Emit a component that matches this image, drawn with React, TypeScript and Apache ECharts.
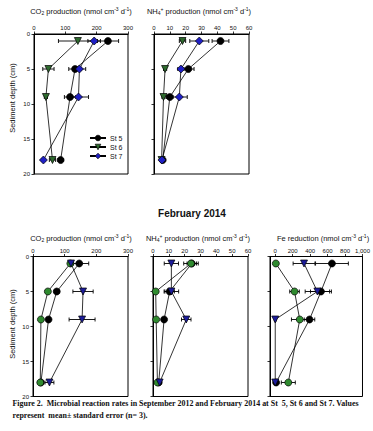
import React, { useEffect, useRef } from "react";
import * as echarts from "echarts";

// ---------- data ----------
const depths = [1, 5, 9, 18];
const stations = ["St 5", "St 6", "St 7"];

// September 2012
const co2SepSt5 = [236, 131, 115, 85];
const co2SepSt5Err = [34, 20, 18, 8];
const co2SepSt6 = [140, 46, 38, 59];
const co2SepSt6Err = [62, 18, 5, 10];
const co2SepSt7 = [192, 145, 142, 30];
const co2SepSt7Err = [20, 20, 32, 5];

const nh4SepSt5 = [42, 21.7, 10, 5.5];
const nh4SepSt5Err = [5.3, 3.6, 2, 1];
const nh4SepSt6 = [18, 7, 6, 4.8];
const nh4SepSt6Err = [2, 1, 1, 0.5];
const nh4SepSt7 = [28.6, 17, 16, 5];
const nh4SepSt7Err = [6, 2, 5, 1];

// February 2014
const co2FebSt5 = [146, 75, 49, 25];
const co2FebSt5Err = [30, 8, 5, 3];
const co2FebSt6 = [118, 47, 25, 23];
const co2FebSt6Err = [5, 8, 5, 3];
const co2FebSt7 = [120, 158, 155, 52];
const co2FebSt7Err = [8, 32, 41, 14];

const nh4FebSt5 = [24.5, 10.5, 7, 3.6];
const nh4FebSt5Err = [3, 3, 1, 0.5];
const nh4FebSt6 = [24, 1.7, 2, 2.8];
const nh4FebSt6Err = [4.6, 0.5, 0.5, 0.5];
const nh4FebSt7 = [11.6, 11.6, 21, 4.2];
const nh4FebSt7Err = [4.5, 4.6, 3, 1];

const feFebSt5 = [650, 524, 393, 10];
const feFebSt5Err = [188, 120, 60, 5];
const feFebSt6 = [7, 221, 281, 150];
const feFebSt6Err = [10, 55, 95, 80];
const feFebSt7 = [330, 483, 0, 0];
const feFebSt7Err = [125, 140, 10, 5];

// tick labels
const depthTicks = [0, 5, 10, 15, 20];
const co2Ticks = [0, 100, 200, 300];
const nh4Ticks = [0, 10, 20, 30, 40, 50, 60];
const feTicks = [0, 200, 400, 600, 800, 1000];

const titleCO2 = "CO{sub|2} production (nmol cm{sup|-3} d{sup|-1})";
const titleNH4 = "NH{sub|4}{sup|+} production (nmol cm{sup|-3} d{sup|-1})";
const titleFe = "Fe reduction (nmol cm{sup|-3} d{sup|-1})";
const yTitle = "Sediment depth (cm)";
const febTitle = "February 2014";
const caption1 =
  "Figure 2.  Microbial reaction rates in September 2012 and February 2014 at St  5, St 6 and St 7. Values";
const caption2 = "represent  mean± standard error (n= 3).";

// ---------- styles ----------
const SANS = "'Liberation Sans', Arial, sans-serif";
const SERIF = "'Liberation Serif', 'Times New Roman', serif";
const GREEN_TOP = "#2e6a2e";
const GREEN_BOT = "#2f8a2f";
const BLUE_TOP = "#1f1fc4";
const BLUE_BOT = "#1c1c9a";
const topColors = ["#000", GREEN_TOP, BLUE_TOP];

const grids = [
  { left: 34, top: 34, width: 94, height: 140 },
  { left: 154, top: 34, width: 95, height: 140 },
  { left: 33, top: 256.5, width: 95, height: 140 },
  { left: 153, top: 256.5, width: 95, height: 140 },
  { left: 270, top: 256.5, width: 94, height: 140 },
];

type Ax = { min: number; max: number; ticks: number[] };
const xAxes: Ax[] = [
  { min: 0, max: 300, ticks: co2Ticks },
  { min: 0, max: 60, ticks: nh4Ticks },
  { min: 0, max: 300, ticks: co2Ticks },
  { min: 0, max: 60, ticks: nh4Ticks },
  { min: -60, max: 1000, ticks: feTicks },
];

function makeStation(
  name: string,
  g: number,
  values: number[],
  errs: number[],
  symbol: string,
  color: string,
  rotate: number,
  size: number
) {
  const line = {
    type: "line",
    name,
    xAxisIndex: g,
    yAxisIndex: g,
    data: values.map((v, i) => [v, depths[i]]),
    symbol,
    symbolSize: size,
    symbolRotate: rotate,
    showSymbol: true,
    lineStyle: { color: "#000", width: 0.8 },
    itemStyle: { color, borderColor: "#000", borderWidth: 0.7 },
    z: 4,
    silent: true,
  };
  const err = {
    type: "custom",
    name: name + " err",
    xAxisIndex: g,
    yAxisIndex: g,
    data: values.map((v, i) => [v, depths[i], errs[i]]),
    encode: { x: 0, y: 1 },
    z: 3,
    silent: true,
    renderItem: (_p: any, api: any) => {
      const x = api.value(0);
      const y = api.value(1);
      const e = api.value(2);
      const a = api.coord([x - e, y]);
      const b = api.coord([x + e, y]);
      const cap = 2;
      const st = { stroke: "#000", lineWidth: 0.9 };
      return {
        type: "group",
        children: [
          { type: "line", shape: { x1: a[0], y1: a[1], x2: b[0], y2: b[1] }, style: st },
          { type: "line", shape: { x1: a[0], y1: a[1] - cap, x2: a[0], y2: a[1] + cap }, style: st },
          { type: "line", shape: { x1: b[0], y1: b[1] - cap, x2: b[0], y2: b[1] + cap }, style: st },
        ],
      };
    },
  };
  return [line, err];
}

export default function App() {
  const ref = useRef<HTMLDivElement>(null);
  useEffect(() => {
    if (!ref.current) return;
    const chart = echarts.init(ref.current, undefined, { renderer: "svg" });

    const xAxis = xAxes.map((a, g) => ({
      gridIndex: g,
      type: "value",
      position: "top",
      min: a.min,
      max: a.max,
      axisLine: { show: true, onZero: false, lineStyle: { color: "#000", width: 1 } },
      axisTick: { show: true, length: 2.5, customValues: a.ticks, lineStyle: { color: "#000", width: 0.8 } },
      axisLabel: { show: true, customValues: a.ticks, fontSize: 6, color: "#111", fontFamily: SANS, margin: 3 },
      splitLine: { show: false },
    }));

    const yAxis = grids.map((_, g) => ({
      gridIndex: g,
      type: "value",
      inverse: true,
      min: 0,
      max: 20,
      interval: 5,
      axisLine: { show: true, onZero: false, lineStyle: { color: "#000", width: 1 } },
      axisTick: { show: true, length: 2.5, lineStyle: { color: "#000", width: 0.8 } },
      axisLabel: {
        show: g === 0 || g === 2,
        fontSize: 6,
        color: "#111",
        fontFamily: SANS,
        margin: 4,
        customValues: depthTicks,
      },
      splitLine: { show: false },
    }));

    const series: any[] = [
      ...makeStation(stations[0], 0, co2SepSt5, co2SepSt5Err, "circle", "#000", 0, 7),
      ...makeStation(stations[1], 0, co2SepSt6, co2SepSt6Err, "triangle", GREEN_TOP, 180, 7),
      ...makeStation(stations[2], 0, co2SepSt7, co2SepSt7Err, "diamond", BLUE_TOP, 0, 8),
      ...makeStation("Sep NH4 St 5", 1, nh4SepSt5, nh4SepSt5Err, "circle", "#000", 0, 7),
      ...makeStation("Sep NH4 St 6", 1, nh4SepSt6, nh4SepSt6Err, "triangle", GREEN_TOP, 180, 7),
      ...makeStation("Sep NH4 St 7", 1, nh4SepSt7, nh4SepSt7Err, "diamond", BLUE_TOP, 0, 8),
      ...makeStation("Feb CO2 St 5", 2, co2FebSt5, co2FebSt5Err, "circle", "#000", 0, 7),
      ...makeStation("Feb CO2 St 6", 2, co2FebSt6, co2FebSt6Err, "circle", GREEN_BOT, 0, 7),
      ...makeStation("Feb CO2 St 7", 2, co2FebSt7, co2FebSt7Err, "triangle", BLUE_BOT, 180, 7),
      ...makeStation("Feb NH4 St 5", 3, nh4FebSt5, nh4FebSt5Err, "circle", "#000", 0, 7),
      ...makeStation("Feb NH4 St 6", 3, nh4FebSt6, nh4FebSt6Err, "circle", GREEN_BOT, 0, 7),
      ...makeStation("Feb NH4 St 7", 3, nh4FebSt7, nh4FebSt7Err, "triangle", BLUE_BOT, 180, 7),
      ...makeStation("Feb Fe St 5", 4, feFebSt5, feFebSt5Err, "circle", "#000", 0, 7),
      ...makeStation("Feb Fe St 6", 4, feFebSt6, feFebSt6Err, "circle", GREEN_BOT, 0, 7),
      ...makeStation("Feb Fe St 7", 4, feFebSt7, feFebSt7Err, "triangle", BLUE_BOT, 180, 7),
    ];

    const rich = {
      sub: { fontSize: 5, lineHeight: 5, verticalAlign: "bottom", fill: "#111", fontFamily: SANS },
      sup: { fontSize: 5, lineHeight: 5, verticalAlign: "top", fill: "#111", fontFamily: SANS },
    };

    const txt = (text: string, x: number, y: number, size: number, opts: any = {}) => ({
      type: "text",
      x,
      y,
      rotation: opts.rotation || 0,
      silent: true,
      style: {
        text,
        fill: "#111",
        fontSize: size,
        lineHeight: opts.lineHeight || undefined,
        fontFamily: opts.family || SANS,
        fontWeight: opts.weight || "normal",
        textAlign: opts.align || "center",
        textVerticalAlign: "middle",
        rich: opts.rich || undefined,
      },
    });
    const title = (text: string, x: number, y: number) =>
      txt(text, x, y, 7.5, { rich, lineHeight: 9 });

    chart.setOption({
      animation: false,
      backgroundColor: "#fff",
      grid: grids.map((g) => ({
        ...g,
        show: true,
        borderColor: "#000",
        borderWidth: 1,
        backgroundColor: "transparent",
        containLabel: false,
      })),
      xAxis,
      yAxis,
      legend: {
        data: stations.map((n, i) => ({
          name: n,
          itemStyle: { color: topColors[i], borderColor: "#000", borderWidth: 0.7 },
        })),
        orient: "vertical",
        left: 84,
        top: 129.5,
        itemWidth: 16,
        itemHeight: 7,
        itemGap: 2,
        selectedMode: false,
        textStyle: { fontSize: 7, color: "#111", fontFamily: SANS, padding: [0, 0, 0, -1] },
      },
      series,
      graphic: [
        title(titleCO2, 81, 11),
        title(titleNH4, 199, 11),
        title(titleCO2, 81, 238),
        title(titleNH4, 198, 238),
        title(titleFe, 323, 238),
        txt(yTitle, 12, 98, 7.5, { rotation: Math.PI / 2 }),
        txt(yTitle, 12, 324, 7.5, { rotation: Math.PI / 2 }),
        txt(febTitle, 192, 213, 10, { weight: "bold" }),
        txt(caption1, 12.5, 403, 7.95, { family: SERIF, weight: "bold", align: "left" }),
        txt(caption2, 12.5, 415, 7.95, { family: SERIF, weight: "bold", align: "left" }),
      ],
    });
    return () => chart.dispose();
  }, []);

  return (
    <div
      ref={ref}
      style={{ position: "fixed", left: 0, top: 0, width: 373, height: 431, background: "#fff" }}
    />
  );
}
